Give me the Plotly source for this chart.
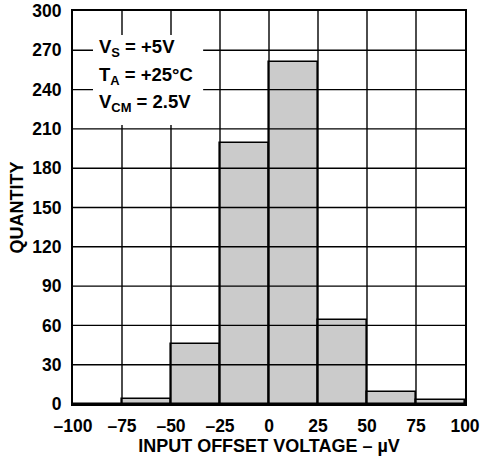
import plotly.graph_objects as go

# Data
bin_left_edges = [-100, -75, -50, -25, 0, 25, 50, 75]
bin_width = 25
quantity = [0, 4, 46, 199, 261, 64, 9, 3]

x_tickvals = [-100, -75, -50, -25, 0, 25, 50, 75, 100]
x_ticktext = ["\u2013100", "\u201375", "\u201350", "\u201325", "0", "25", "50", "75", "100"]
y_tickvals = [0, 30, 60, 90, 120, 150, 180, 210, 240, 270, 300]
y_ticktext = [str(v) for v in y_tickvals]

annotation_lines = ["V<sub>S</sub> = +5V", "T<sub>A</sub> = +25\u00b0C", "V<sub>CM</sub> = 2.5V"]

FONT = "Liberation Sans, Arial, Helvetica, sans-serif"

centers = [e + bin_width / 2 for e in bin_left_edges]

fig = go.Figure()
fig.add_trace(go.Bar(
    x=centers, y=quantity, width=[bin_width] * len(centers),
    marker=dict(color="#cbcbcb", line=dict(color="black", width=1.6)),
    showlegend=False, hoverinfo="skip",
))

shapes = []
for v in x_tickvals[1:-1]:
    shapes.append(dict(type="line", xref="x", yref="paper", x0=v, x1=v, y0=0, y1=1,
                       line=dict(color="black", width=1.4), layer="above"))
for v in y_tickvals[1:-1]:
    shapes.append(dict(type="line", xref="paper", yref="y", x0=0, x1=1, y0=v, y1=v,
                       line=dict(color="black", width=1.4), layer="above"))
# white box behind the condition text
shapes.append(dict(type="rect", xref="paper", yref="paper", x0=0.051, x1=0.332, y0=0.71, y1=0.939,
                   fillcolor="white", line=dict(width=0), layer="above"))

line_y = [0.9427, 0.8715, 0.8003]
annotations = [
    dict(xref="paper", yref="paper", x=0.062, y=yy, xanchor="left", yanchor="top",
         align="left", showarrow=False, text=txt,
         font=dict(family=FONT, size=18.5, weight="bold"))
    for txt, yy in zip(annotation_lines, line_y)
]

fig.update_layout(
    width=484, height=461,
    margin=dict(l=73, r=19, t=11, b=57, autoexpand=False),
    paper_bgcolor="white", plot_bgcolor="white",
    font=dict(family=FONT, size=17, color="black", weight="bold"),
    shapes=shapes,
    bargap=0,
    xaxis=dict(range=[-100, 100], tickvals=x_tickvals, ticktext=x_ticktext,
               showgrid=False, zeroline=False, showline=True, mirror=True,
               linecolor="black", linewidth=2, ticks="", ticklabelstandoff=5,
               automargin=False,
               tickfont=dict(family=FONT, size=17.5, weight="bold"),
               title=dict(text="INPUT OFFSET VOLTAGE \u2013 \u00b5V", standoff=0,
                          font=dict(family=FONT, size=18, weight="bold"))),
    yaxis=dict(range=[0, 300], tickvals=y_tickvals, ticktext=y_ticktext,
               showgrid=False, zeroline=False, showline=True, mirror=True,
               linecolor="black", linewidth=2, ticks="", ticklabelstandoff=6,
               automargin=False,
               tickfont=dict(family=FONT, size=17.5, weight="bold"),
               title=dict(text="QUANTITY", standoff=4,
                          font=dict(family=FONT, size=18, weight="bold"))),
    annotations=annotations,
)

fig.write_html("out.html", config={"displayModeBar": False},
               post_script="document.body.style.margin='0';")
